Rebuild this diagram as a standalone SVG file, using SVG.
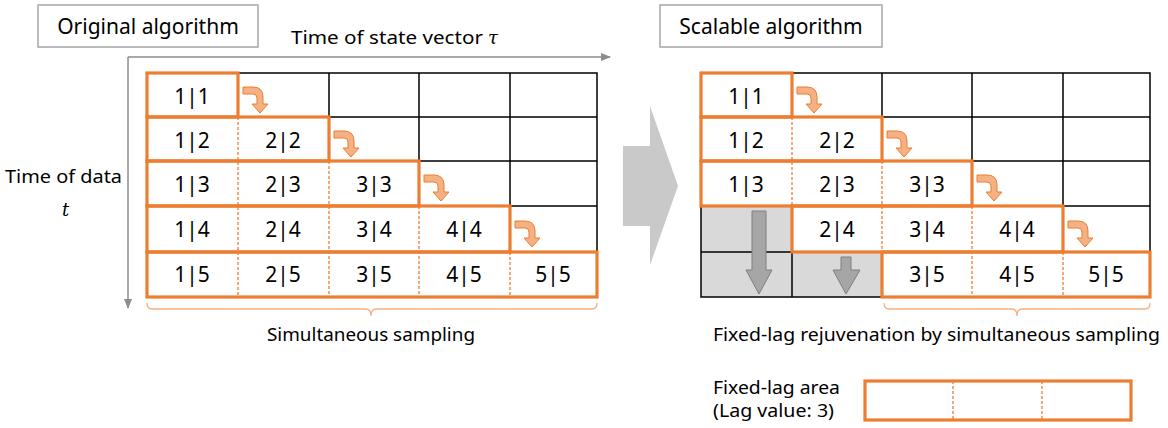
<svg xmlns="http://www.w3.org/2000/svg" width="1168" height="428" viewBox="0 0 1168 428">
<style>
text{font-family:"Noto Sans","Open Sans","DejaVu Sans",sans-serif;fill:#000}
.cell{font-size:21px;text-anchor:middle}
.lbl{font-size:18px}
.title{font-size:21px;text-anchor:middle}
.grid{fill:none;stroke:#000;stroke-width:1.5}
.obox{fill:none;stroke:#ED7D31;stroke-width:3.2}
.under{stroke:#fff;stroke-width:2}
.dash{stroke:#ED7D31;stroke-width:1.3;stroke-dasharray:3 2}
.brace{fill:none;stroke:#F4B183;stroke-width:1.3}
.tbox{fill:#fff;stroke:#A6A6A6;stroke-width:1.5}
.axis{stroke:#8C8C8C;stroke-width:1.5}
.gcell{fill:#D9D9D9}
.darr{fill:#A6A6A6;stroke:#7F7F7F;stroke-width:1}
</style>
<defs>
<path id="turn" d="M0,0 L10,0 Q20,0 20,10 L20,17 L25,17 L17,26 L9,17 L14,17 L14,11 Q14,7 10,7 L0,7 Z" fill="#F4B183" stroke="#ED7D31" stroke-width="1"/>
<marker id="ah" viewBox="0 0 10 10" refX="9" refY="5" markerWidth="10" markerHeight="10" markerUnits="userSpaceOnUse" orient="auto">
<path d="M0,1 L10,5 L0,9 Z" fill="#8C8C8C"/>
</marker>
</defs>

<g id="connectors">
<line class="axis" x1="128" y1="57" x2="610" y2="57" marker-end="url(#ah)"/>
<line class="axis" x1="128" y1="57" x2="128" y2="308" marker-end="url(#ah)"/>
<path class="brace" d="M147,303 Q147,309 152,309 L366,309 Q371,309 371,316 Q371,309 376,309 L592,309 Q597,309 597,303"/>
<path class="brace" d="M884,303 Q884,309 889,309 L1012,309 Q1017,309 1017,316 Q1017,309 1022,309 L1145,309 Q1150,309 1150,303"/>
<path id="big-arrow" d="M623,146 L650,146 L650,106 L678,186 L650,265 L650,226 L623,226 Z" fill="#C9C9C9"/>
</g>

<g id="title-original">
<rect class="tbox" x="38" y="5" width="220" height="42"/>
<text class="title" x="148" y="34">Original algorithm</text>
</g>
<g id="title-scalable">
<rect class="tbox" x="660" y="5" width="222" height="42"/>
<text class="title" x="771" y="34">Scalable algorithm</text>
</g>
<g id="axis-labels">
<text class="lbl" x="291" y="44" textLength="192" lengthAdjust="spacingAndGlyphs">Time of state vector</text>
<text x="488" y="44" style="font-family:'DejaVu Serif','Liberation Serif',serif;font-style:italic;font-size:18px">τ</text>
<text class="lbl" x="5" y="183" textLength="117" lengthAdjust="spacingAndGlyphs">Time of data</text>
<text x="62" y="216" style="font-family:'DejaVu Serif','Liberation Serif',serif;font-style:italic;font-size:18px">t</text>
</g>

<g id="left-grid">
<rect class="grid" x="147" y="73" width="450" height="224"/>
<path class="grid" d="M238,73V297 M329,73V297 M419,73V297 M510,73V297 M147,117H597 M147,161H597 M147,206H597 M147,252H597"/>
<path class="under" d="M238,117V297 M329,161V297 M419,206V297 M510,252V297"/>
<path class="dash" d="M238,117V297 M329,161V297 M419,206V297 M510,252V297"/>
<rect class="obox" x="147" y="73" width="91" height="44"/>
<rect class="obox" x="147" y="117" width="182" height="44"/>
<rect class="obox" x="147" y="161" width="272" height="45"/>
<rect class="obox" x="147" y="206" width="363" height="46"/>
<rect class="obox" x="147" y="252" width="450" height="45"/>
<text class="cell" x="192" y="104">1|1</text>
<text class="cell" x="192" y="148">1|2</text>
<text class="cell" x="283" y="148">2|2</text>
<text class="cell" x="192" y="192">1|3</text>
<text class="cell" x="283" y="192">2|3</text>
<text class="cell" x="374" y="192">3|3</text>
<text class="cell" x="192" y="237">1|4</text>
<text class="cell" x="283" y="237">2|4</text>
<text class="cell" x="374" y="237">3|4</text>
<text class="cell" x="464" y="237">4|4</text>
<text class="cell" x="192" y="282">1|5</text>
<text class="cell" x="283" y="282">2|5</text>
<text class="cell" x="374" y="282">3|5</text>
<text class="cell" x="464" y="282">4|5</text>
<text class="cell" x="553" y="282">5|5</text>
<use href="#turn" x="243" y="87"/>
<use href="#turn" x="334" y="131"/>
<use href="#turn" x="424" y="175"/>
<use href="#turn" x="515" y="221"/>
</g>
<g id="left-caption">
<text class="lbl" x="371" y="341" text-anchor="middle" textLength="208" lengthAdjust="spacingAndGlyphs">Simultaneous sampling</text>
</g>

<g id="right-grid">
<rect class="gcell" x="701" y="206" width="91" height="91"/>
<rect class="gcell" x="792" y="252" width="90" height="45"/>
<rect class="grid" x="701" y="73" width="449" height="224"/>
<path class="grid" d="M792,73V297 M882,73V297 M972,73V297 M1063,73V297 M701,117H1150 M701,161H1150 M701,206H1150 M701,252H1150"/>
<path class="under" d="M792,117V206 M882,161V297 M972,206V297 M1063,252V297"/>
<path class="dash" d="M792,117V206 M882,161V206 M882,206V252 M972,206V297 M1063,252V297"/>
<rect class="obox" x="701" y="73" width="91" height="44"/>
<rect class="obox" x="701" y="117" width="181" height="44"/>
<rect class="obox" x="701" y="161" width="271" height="45"/>
<rect class="obox" x="792" y="206" width="271" height="46"/>
<rect class="obox" x="882" y="252" width="268" height="45"/>
<path class="darr" d="M752,211 L766,211 L766,270 L772,270 L759,294 L746,270 L752,270 Z"/>
<path class="darr" d="M841,257 L851,257 L851,270 L860,270 L846,294 L833,270 L841,270 Z"/>
<text class="cell" x="746" y="104">1|1</text>
<text class="cell" x="746" y="148">1|2</text>
<text class="cell" x="837" y="148">2|2</text>
<text class="cell" x="746" y="192">1|3</text>
<text class="cell" x="837" y="192">2|3</text>
<text class="cell" x="927" y="192">3|3</text>
<text class="cell" x="837" y="237">2|4</text>
<text class="cell" x="927" y="237">3|4</text>
<text class="cell" x="1017" y="237">4|4</text>
<text class="cell" x="927" y="282">3|5</text>
<text class="cell" x="1017" y="282">4|5</text>
<text class="cell" x="1106" y="282">5|5</text>
<use href="#turn" x="797" y="87"/>
<use href="#turn" x="887" y="131"/>
<use href="#turn" x="977" y="175"/>
<use href="#turn" x="1068" y="221"/>
</g>
<g id="right-caption">
<text class="lbl" x="713" y="341" textLength="447" lengthAdjust="spacingAndGlyphs">Fixed-lag rejuvenation by simultaneous sampling</text>
</g>

<g id="legend">
<text class="lbl" x="713" y="394" textLength="127" lengthAdjust="spacingAndGlyphs">Fixed-lag area</text>
<text class="lbl" x="713" y="417" textLength="121" lengthAdjust="spacingAndGlyphs">(Lag value: 3)</text>
<path class="dash" d="M953,381V420 M1042,381V420"/>
<rect class="obox" x="865" y="381" width="266" height="39"/>
</g>
</svg>
